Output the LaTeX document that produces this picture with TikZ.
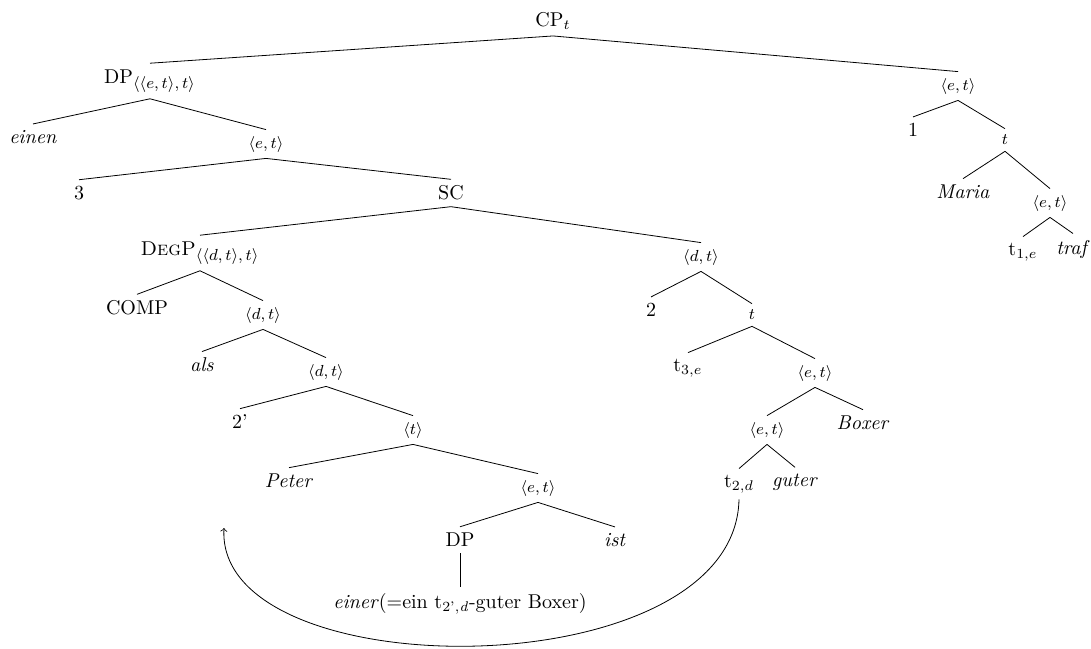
\documentclass[tikz,border=0pt]{standalone}
\usepackage{amsmath}
\usepackage{amssymb}
\usepackage{tikz}

\begin{document}
\begin{tikzpicture}[x=0.5pt, y=-0.5pt, every node/.style={inner sep=3pt}, typ/.style={font=\footnotesize}]
            \useasboundingbox (0,0) rectangle (1091,648);
            % Root and left branch
            \node (cp) at (553,21) {CP$_t$};
            \node (dp) at (150,81) {DP\textsubscript{\footnotesize$\langle\langle e,t\rangle,t\rangle$}};
            \node (einen) at (33,137) {\textit{einen}};
            \node[typ] (et2) at (266,144) {$\langle e,t\rangle$};
            \node (three) at (79,193) {3};
            \node (sc) at (451,193) {SC};
            \node (degp) at (200,253) {\textsc{DegP}\textsubscript{\footnotesize$\langle\langle d,t\rangle,t\rangle$}};
            \node (comp) at (137,308) {COMP};
            \node[typ] (dt2) at (263,315) {$\langle d,t\rangle$};
            \node (als) at (202,365) {\textit{als}};
            \node[typ] (dt3) at (326,372) {$\langle d,t\rangle$};
            \node (twop) at (240,422) {2'};
            \node[typ] (tt) at (413,430) {$\langle t\rangle$};
            \node (peter) at (289,481) {\textit{Peter}};
            \node[typ] (et6) at (538,488) {$\langle e,t\rangle$};
            \node (dp2) at (460,540) {DP};
            \node (ist) at (615,540) {\textit{ist}};
            \node (einer) at (460,604) {\textit{einer}(=ein t\textsubscript{2',\textit{d}}-guter Boxer)};
            % Lambda abstraction over d
            \node[typ] (dt1) at (701,257) {$\langle d,t\rangle$};
            \node (two) at (651,310) {2};
            \node[typ] (t2) at (752,315) {$t$};
            \node (t3e) at (688,368) {t$_{3,e}$};
            \node[typ] (et4) at (815,373) {$\langle e,t\rangle$};
            \node[typ] (et5) at (767,430) {$\langle e,t\rangle$};
            \node (boxer) at (863,423) {\textit{Boxer}};
            \node (t2d) at (739,484) {t$_{2,d}$};
            \node (guter) at (795,482) {\textit{guter}};
            % Right branch
            \node[typ] (et1) at (958,86) {$\langle e,t\rangle$};
            \node (one) at (913,130) {1};
            \node[typ] (t1) at (1005,140) {$t$};
            \node (maria) at (963,192) {\textit{Maria}};
            \node[typ] (et3) at (1050,203) {$\langle e,t\rangle$};
            \node (t1e) at (1023,252) {t$_{1,e}$};
            \node (traf) at (1073,249) {\textit{traf}};
            \coordinate (back) at (224,528);

            \draw (cp.south) -- (dp.north);
            \draw (cp.south) -- (et1.north);
            \draw (dp.south) -- (einen.north);
            \draw (dp.south) -- (et2.north);
            \draw (et2.south) -- (three.north);
            \draw (et2.south) -- (sc.north);
            \draw (sc.south) -- (degp.north);
            \draw (sc.south) -- (dt1.north);
            \draw (degp.south) -- (comp.north);
            \draw (degp.south) -- (dt2.north);
            \draw (dt2.south) -- (als.north);
            \draw (dt2.south) -- (dt3.north);
            \draw (dt3.south) -- (twop.north);
            \draw (dt3.south) -- (tt.north);
            \draw (tt.south) -- (peter.north);
            \draw (tt.south) -- (et6.north);
            \draw (et6.south) -- (dp2.north);
            \draw (et6.south) -- (ist.north);
            \draw (dp2.south) -- (einer.north);
            \draw (dt1.south) -- (two.north);
            \draw (dt1.south) -- (t2.north);
            \draw (t2.south) -- (t3e.north);
            \draw (t2.south) -- (et4.north);
            \draw (et4.south) -- (et5.north);
            \draw (et4.south) -- (boxer.north);
            \draw (et5.south) -- (t2d.north);
            \draw (et5.south) -- (guter.north);
            \draw (et1.south) -- (one.north);
            \draw (et1.south) -- (t1.north);
            \draw (t1.south) -- (maria.north);
            \draw (t1.south) -- (et3.north);
            \draw (et3.south) -- (t1e.north);
            \draw (et3.south) -- (traf.north);
            % Movement arrow
            \draw[->] (t2d.south) .. controls (735,690) and (215,690) .. (back);
        \end{tikzpicture}
\end{document}
